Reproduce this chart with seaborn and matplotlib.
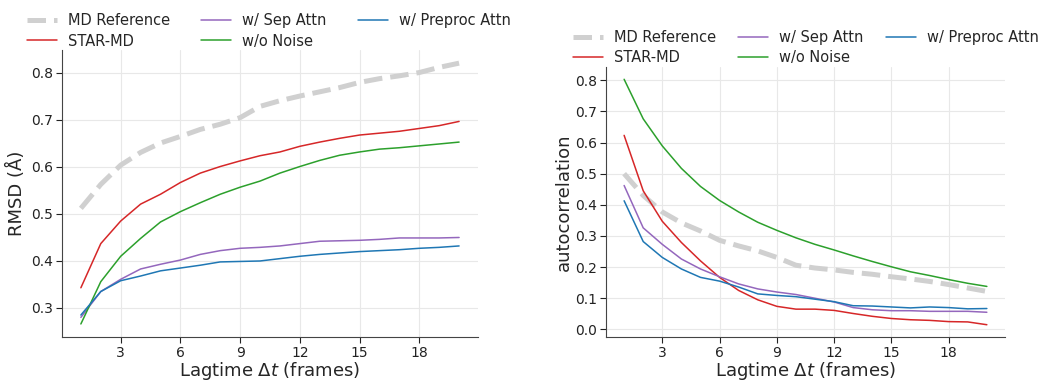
import numpy as np
import pandas as pd
import matplotlib
matplotlib.use("Agg")
import matplotlib.pyplot as plt
import seaborn as sns

lag = list(range(1, 21))

series_names = ["MD Reference", "STAR-MD", "w/ Sep Attn", "w/o Noise", "w/ Preproc Attn"]

rmsd_md = [0.511, 0.562, 0.603, 0.630, 0.650, 0.664, 0.679, 0.690, 0.704, 0.728,
           0.740, 0.750, 0.759, 0.768, 0.779, 0.787, 0.793, 0.800, 0.811, 0.820]
rmsd_star = [0.342, 0.436, 0.484, 0.520, 0.541, 0.566, 0.586, 0.600, 0.612, 0.623,
             0.631, 0.643, 0.652, 0.660, 0.667, 0.671, 0.675, 0.681, 0.687, 0.696]
rmsd_sep = [0.279, 0.334, 0.360, 0.382, 0.392, 0.401, 0.413, 0.421, 0.426, 0.428,
            0.431, 0.436, 0.441, 0.442, 0.443, 0.445, 0.448, 0.448, 0.448, 0.449]
rmsd_nonoise = [0.265, 0.355, 0.409, 0.447, 0.482, 0.504, 0.523, 0.541, 0.556, 0.569,
                0.586, 0.600, 0.613, 0.624, 0.631, 0.637, 0.640, 0.644, 0.648, 0.652]
rmsd_pre = [0.284, 0.334, 0.357, 0.367, 0.378, 0.384, 0.390, 0.397, 0.398, 0.399,
            0.404, 0.409, 0.413, 0.416, 0.419, 0.421, 0.423, 0.426, 0.428, 0.431]

ac_md = [0.500, 0.430, 0.377, 0.342, 0.316, 0.286, 0.268, 0.252, 0.231, 0.206,
         0.197, 0.191, 0.183, 0.177, 0.169, 0.162, 0.154, 0.144, 0.133, 0.122]
ac_star = [0.623, 0.445, 0.347, 0.279, 0.220, 0.167, 0.125, 0.095, 0.074, 0.065,
           0.065, 0.061, 0.051, 0.042, 0.035, 0.031, 0.029, 0.025, 0.024, 0.015]
ac_sep = [0.462, 0.326, 0.273, 0.226, 0.194, 0.169, 0.146, 0.130, 0.120, 0.112,
          0.100, 0.088, 0.070, 0.063, 0.060, 0.060, 0.058, 0.058, 0.058, 0.055]
ac_nonoise = [0.803, 0.676, 0.589, 0.517, 0.459, 0.414, 0.377, 0.344, 0.318, 0.294,
              0.273, 0.255, 0.236, 0.218, 0.201, 0.185, 0.173, 0.160, 0.148, 0.138]
ac_pre = [0.413, 0.282, 0.231, 0.194, 0.167, 0.155, 0.136, 0.114, 0.109, 0.105,
          0.097, 0.089, 0.076, 0.075, 0.072, 0.069, 0.072, 0.070, 0.066, 0.067]

xticks = [3, 6, 9, 12, 15, 18]

colors = {"MD Reference": "#d0d0d0", "STAR-MD": "#d62728", "w/ Sep Attn": "#9467bd",
          "w/o Noise": "#2ca02c", "w/ Preproc Attn": "#1f77b4"}

sns.set_style("ticks", {"axes.grid": True, "grid.color": "#e8e8e8",
                        "axes.edgecolor": "#444444"})
plt.rcParams['font.family'] = ['DejaVu Sans']

def make_df(vals):
    rows = []
    for name, v in zip(series_names, vals):
        for x, y in zip(lag, v):
            rows.append({"lag": x, "val": y, "series": name})
    return pd.DataFrame(rows)

df_rmsd = make_df([rmsd_md, rmsd_star, rmsd_sep, rmsd_nonoise, rmsd_pre])
df_ac = make_df([ac_md, ac_star, ac_sep, ac_nonoise, ac_pre])

fig = plt.figure(figsize=(10.38, 3.81), dpi=100)
ax1 = fig.add_axes([0.0597, 0.1155, 0.4008, 0.753])
ax2 = fig.add_axes([0.5838, 0.1155, 0.3844, 0.7086])

configs = [(ax1, df_rmsd, "RMSD (Å)", 3, 2.15),
           (ax2, df_ac, "autocorrelation", 1, 1.55)]
for ax, df, ylabel, ypad, colsp in configs:
    for name in series_names:
        sub = df[df["series"] == name]
        if name == "MD Reference":
            sns.lineplot(data=sub, x="lag", y="val", ax=ax, color=colors[name],
                         linewidth=3.6, linestyle="--", label=name)
        else:
            sns.lineplot(data=sub, x="lag", y="val", ax=ax, color=colors[name],
                         linewidth=1.1, label=name)
    ax.set_xticks(xticks)
    ax.set_xlabel(r"Lagtime $\Delta t$ (frames)", fontsize=13, labelpad=0)
    ax.set_ylabel(ylabel, fontsize=13, labelpad=ypad)
    ax.tick_params(labelsize=10, length=4.2, width=0.8, pad=2.5, colors="#222222")
    ax.grid(True, color="#e8e8e8", linewidth=0.8)
    sns.despine(ax=ax)
    ax.legend(loc="lower left", bbox_to_anchor=(-0.098, 0.985), ncol=3, frameon=False,
              fontsize=10.5, handlelength=2.05, columnspacing=colsp, labelspacing=0.35,
              handletextpad=0.75, borderaxespad=0.0)

fig.savefig("out.png", dpi=100)
